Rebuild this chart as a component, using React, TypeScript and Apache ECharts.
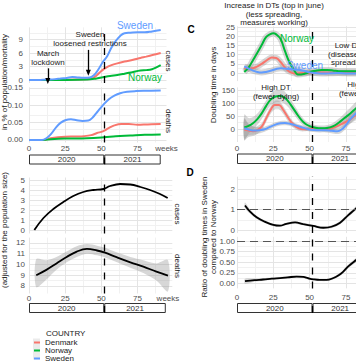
import React, { useEffect, useRef } from 'react';
import * as echarts from 'echarts';

const FONT = "'Liberation Sans', Arial, Helvetica, sans-serif";
const C_DK = '#F8766D';
const C_NO = '#00BA38';
const C_SE = '#619CFF';
const TXT = '#4d4d4d';
const MAJOR = '#e4e4e4';
const MINOR = '#f1f1f1';
const BAND = 'rgba(150,150,150,0.38)';

// ---- ticks / categories
const weekTicks = [0, 25, 50, 75];
const weekMinor = [12.5, 37.5, 62.5, 87.5];
const years = ['2020', '2021'];
const yearSplit = 52;
const countries = ['Denmark', 'Norway', 'Sweden'];

const aCasesTicks = [0, 3, 6, 9];
const aCasesMinor = [1.5, 4.5, 7.5, 10.5];
const aDeathTicks = [0, 0.05, 0.1, 0.15];
const aDeathMinor = [0.025, 0.075, 0.125];
const bCasesTicks = [0, 1, 2, 3, 4, 5];
const bCasesMinor = [0.5, 1.5, 2.5, 3.5, 4.5];
const bDeathTicks = [8, 9, 10, 11, 12];
const bDeathMinor = [8.5, 9.5, 10.5, 11.5];
const cTopTicks = [0, 5, 10, 15, 20, 25];
const cTopMinor = [2.5, 7.5, 12.5, 17.5, 22.5];
const cBotTicks = [0, 50, 100, 150];
const cBotMinor = [-25, 25, 75, 125];
const dTopTicks = [0, 1, 2];
const dTopMinor = [0.5, 1.5, 2.5];
const dBotTicks = [0, 0.25, 0.5, 0.75, 1];
const dBotMinor = [0.125, 0.375, 0.625, 0.875];

// ---- A: cumulative cases (% of population), [week, value]
const aCasesSweden = [[0, 0], [6, 0], [12, 0.1], [18, 0.2], [22, 0.35], [26, 0.45], [30, 0.65], [34, 0.55], [38, 0.5], [42, 0.55], [45, 1.1], [48, 2.4], [51, 4.0], [54, 5.3], [57, 7.2], [60, 8.7], [63, 9.8], [66, 10.4], [70, 10.5], [75, 10.6], [80, 10.6], [85, 10.8], [91, 11.1]];
const aCasesDenmark = [[0, 0], [20, 0.05], [40, 0.15], [44, 0.4], [47, 1.1], [50, 2.0], [53, 2.7], [57, 3.3], [61, 3.7], [66, 4.1], [72, 4.5], [77, 4.9], [81, 5.2], [86, 5.6], [91, 6.0]];
const aCasesNorway = [[0, 0], [20, 0.02], [40, 0.1], [46, 0.3], [51, 0.6], [56, 0.9], [61, 1.1], [66, 1.4], [72, 1.8], [77, 2.1], [81, 2.2], [85, 2.4], [88, 2.8], [91, 3.3]];
// ---- A: cumulative deaths
const aDeathsSweden = [[0, 0], [9, 0], [12, 0.005], [15, 0.016], [19, 0.038], [22, 0.05], [25, 0.057], [29, 0.06], [33, 0.057], [37, 0.055], [41, 0.056], [44, 0.065], [47, 0.08], [51, 0.1], [55, 0.117], [59, 0.128], [63, 0.135], [68, 0.139], [74, 0.141], [81, 0.142], [91, 0.143]];
const aDeathsDenmark = [[0, 0], [10, 0], [15, 0.005], [20, 0.008], [25, 0.0095], [32, 0.01], [38, 0.011], [43, 0.014], [47, 0.02], [51, 0.025], [55, 0.034], [59, 0.042], [64, 0.046], [69, 0.046], [75, 0.044], [82, 0.045], [91, 0.046]];
const aDeathsNorway = [[0, 0], [10, 0], [15, 0.002], [25, 0.004], [40, 0.005], [52, 0.008], [60, 0.011], [70, 0.013], [80, 0.015], [91, 0.016]];

// ---- B: ratio Sweden, cases [week, value]; deaths [week, mid, lo, hi]
const bCases = [[3.7, 0], [10, 1.2], [16.8, 2.1], [23.7, 2.8], [30.6, 3.4], [37.5, 3.8], [44.4, 4.0], [51.4, 4.1], [56, 4.4], [63, 4.6], [70, 4.55], [77, 4.3], [83.6, 4.0], [90.5, 3.6], [95.8, 3.2]];
const bDeaths = [[5, 9.0, 7.9, 10.5], [12, 9.5, 8.6, 10.4], [19, 10.1, 9.5, 10.7], [26, 10.7, 10.2, 11.2], [33, 11.2, 10.7, 11.7], [40, 11.45, 11.0, 11.9], [47, 11.3, 10.85, 11.75], [52.5, 11.1, 10.65, 11.55], [60, 10.7, 10.25, 11.15], [70, 10.2, 9.7, 10.7], [79, 9.8, 9.2, 10.4], [88, 9.33, 8.5, 10.1], [96, 8.96, 7.5, 10.4]];

// ---- C: doubling times [week, value]
const cTopNorway = [[5, 0.5], [8, 3], [11, 7], [14, 11], [17, 15.2], [20, 19.5], [23, 21.2], [25, 21.6], [27, 21], [30, 18.5], [33, 12], [36, 6], [39, 2], [42, -0.8], [46, -0.5], [50, 0.5], [54, 1.2], [58, 1.6], [62, 1.6], [66, 1.4], [70, 1.0], [74, 0.9], [78, 1.0], [84, 0.9]];
const cTopDenmark = [[5, 2.5], [9, 2.4], [13, 3.2], [17, 5], [21, 7.2], [24, 8.4], [27, 8.2], [30, 6], [33, 3], [36, 0.8], [40, -0.3], [45, 0], [50, 0.2], [56, 0.3], [62, 0.2], [70, 0.1], [78, 0.1], [84, 0.1]];
const cTopSweden = [[5, 3.6], [8, 2.4], [11, 1.3], [14, 0.6], [17, 0.3], [20, 0.6], [23, 1.2], [27, 2.2], [30, 2.6], [33, 2.4], [37, 2.0], [41, 1.8], [45, 1.4], [49, 0.6], [52, 0.1], [56, -0.2], [60, -0.3], [65, -0.1], [70, 0], [75, -0.2], [80, -0.3], [84, -0.3]];
// [week, value, CI half width]
const cBotNorway = [[5, 6, 50], [8, 12, 30], [11, 22, 24], [14, 38, 22], [17, 60, 22], [20, 88, 22], [23, 112, 22], [26, 124, 23], [29, 127, 24], [32, 124, 24], [35, 108, 22], [38, 85, 20], [41, 60, 18], [44, 37, 15], [47, 20, 13], [50, 11, 11], [54, 5, 10], [58, 3, 10], [62, 4, 11], [66, 10, 13], [70, 24, 15], [74, 42, 18], [78, 60, 22], [82, 80, 25], [86, 98, 28]];
const cBotDenmark = [[5, -2, 40], [8, -6, 25], [11, -9, 18], [14, -4, 15], [17, 9, 14], [20, 40, 14], [23, 72, 15], [26, 92, 16], [29, 92, 16], [32, 72, 15], [35, 45, 14], [38, 22, 12], [41, 7, 10], [44, 0, 9], [47, -1, 8], [50, 1, 8], [53, 3, 8], [57, 1, 8], [61, -1, 9], [65, 3, 10], [69, 11, 12], [73, 22, 14], [77, 33, 16], [81, 50, 19], [85, 65, 22]];
const cBotSweden = [[5, 3, 40], [8, -2, 22], [12, -6, 15], [16, -4, 12], [19, -1, 10], [22, 6, 9], [26, 16, 9], [30, 22, 9], [33, 23, 9], [37, 19, 8], [41, 13, 8], [45, 6, 8], [49, -1, 8], [53, -4, 8], [57, -5, 8], [61, -5, 8], [65, -7, 9], [69, -9, 10], [72, -2, 12], [75, 15, 14], [78, 38, 16], [81, 55, 18], [84, 70, 20]];

// ---- D: ratio Sweden / Norway [week, value, CI half width]
const dTop = [[5.5, 1.2, 0.14], [9, 0.9, 0.1], [13.5, 0.62, 0.08], [19, 0.41, 0.07], [25, 0.25, 0.06], [29.6, 0.21, 0.06], [34, 0.3, 0.06], [40, 0.37, 0.06], [45.6, 0.29, 0.06], [52.5, 0.2, 0.06], [59.4, 0.11, 0.06], [65, 0.16, 0.07], [71, 0.36, 0.08], [76.6, 0.73, 0.09], [82, 1.06, 0.1], [86, 1.35, 0.12]];
const dBot = [[5.5, 0.05, 0.06], [12, 0.075, 0.04], [18, 0.09, 0.03], [24, 0.11, 0.025], [29.6, 0.125, 0.025], [35, 0.14, 0.025], [41, 0.16, 0.025], [45.6, 0.15, 0.025], [49, 0.12, 0.025], [52.5, 0.095, 0.025], [57, 0.08, 0.025], [61.7, 0.08, 0.025], [66, 0.12, 0.03], [70, 0.19, 0.035], [73, 0.27, 0.04], [76.6, 0.4, 0.045], [82, 0.55, 0.05], [86, 0.65, 0.06]];

// year bar extents (end week per panel)
const yearEndA = 91;
const yearEndB = 94.5;
const yearEndCD = 90;

const fmt2 = (v: number) => v.toFixed(2);
const fmtInt = (v: number) => String(v);

function buildOption() {
  const grids = [
    { left: 29, top: 27.35, width: 137.5, height: 55.6 }, // 0 A cases
    { left: 29, top: 87.3, width: 137.5, height: 55.2 }, // 1 A deaths
    { left: 29, top: 154.5, width: 137.5, height: 10 }, // 2 A years
    { left: 29, top: 177.5, width: 143.3, height: 56 }, // 3 B cases
    { left: 29, top: 237.6, width: 143.3, height: 55.9 }, // 4 B deaths
    { left: 29, top: 303, width: 143.3, height: 10 }, // 5 B years
    { left: 237, top: 26.3, width: 143.8, height: 54.8 }, // 6 C top
    { left: 237, top: 87.4, width: 143.8, height: 54.6 }, // 7 C bottom
    { left: 237, top: 153.5, width: 143.8, height: 10.5 }, // 8 C years
    { left: 237, top: 176.7, width: 143.8, height: 56.4 }, // 9 D top
    { left: 237, top: 236.8, width: 143.8, height: 51.6 }, // 10 D bottom
    { left: 237, top: 303, width: 143.8, height: 10 }, // 11 D years
  ].map((g) => ({ ...g, show: false, containLabel: false, outerBoundsMode: 'none' }));

  const xMax = [95, 95, 95, 99, 99, 99, 99, 99, 99, 99, 99, 99];
  const xLabel: Record<number, { margin: number; weeksAt: number | null }> = {
    1: { margin: 2, weeksAt: 95 },
    4: { margin: 1, weeksAt: 96 },
    7: { margin: 2, weeksAt: null },
    10: { margin: 5.5, weeksAt: null },
  };
  const xAxis = grids.map((_, i) => {
    const lab = xLabel[i];
    return {
      type: 'value',
      gridIndex: i,
      min: 0,
      max: xMax[i],
      axisLine: { show: false },
      axisTick: { show: false },
      splitLine: { show: false },
      axisLabel: lab
        ? {
            show: true,
            customValues: lab.weeksAt === null ? weekTicks : [...weekTicks, lab.weeksAt],
            formatter: (v: number) => (v === lab.weeksAt ? 'weeks' : String(v)),
            fontSize: 8,
            color: TXT,
            margin: lab.margin,
            fontFamily: FONT,
            hideOverlap: false,
          }
        : { show: false },
    };
  });

  const yDef: Record<number, any> = {
    0: { min: -0.65, max: 11.7, ticks: aCasesTicks, f: fmtInt, margin: 6 },
    1: { min: -0.0073, max: 0.152, ticks: aDeathTicks, f: fmt2, margin: 6 },
    3: { min: -0.35, max: 5.25, ticks: bCasesTicks, f: fmtInt, margin: 4 },
    4: { min: 7.3, max: 12.5, ticks: bDeathTicks, f: fmtInt, margin: 4 },
    6: { min: -4.4, max: 25.4, ticks: cTopTicks, f: fmtInt, margin: 2 },
    7: { min: -50, max: 160, ticks: cBotTicks, f: fmtInt, margin: 2 },
    9: { min: -0.15, max: 2.6, ticks: dTopTicks, f: fmtInt, margin: 2 },
    10: { min: -0.12, max: 1.1, ticks: dBotTicks, f: fmt2, margin: 2 },
  };
  const yAxis = grids.map((_, i) => {
    const d = yDef[i];
    if (!d) {
      return { type: 'category', gridIndex: i, data: ['year'], show: false };
    }
    return {
      type: 'value',
      gridIndex: i,
      min: d.min,
      max: d.max,
      axisLine: { show: false },
      axisTick: { show: false },
      splitLine: { show: false },
      axisLabel: {
        customValues: d.ticks,
        formatter: d.f,
        fontSize: 8,
        color: TXT,
        margin: d.margin,
        fontFamily: FONT,
        hideOverlap: false,
      },
    };
  });

  const series: any[] = [];

  // background grid lines (drawn beneath everything)
  const gridLines = (i: number, yMaj: number[], yMin: number[]) => {
    const xMin = weekMinor.filter((v) => v <= xMax[i]);
    series.push({
      type: 'line',
      name: 'grid' + i,
      xAxisIndex: i,
      yAxisIndex: i,
      data: [[0, yDef[i].min]],
      symbol: 'none',
      lineStyle: { opacity: 0 },
      silent: true,
      z: 0,
      markLine: {
        z: 0,
        silent: true,
        animation: false,
        symbol: ['none', 'none'],
        label: { show: false },
        emphasis: { disabled: true },
        data: [
          ...yMin.map((v) => ({ yAxis: v, lineStyle: { color: MINOR, width: 1, type: 'solid' } })),
          ...xMin.map((v) => ({ xAxis: v, lineStyle: { color: MINOR, width: 1, type: 'solid' } })),
          ...yMaj.map((v) => ({ yAxis: v, lineStyle: { color: MAJOR, width: 1, type: 'solid' } })),
          ...weekTicks.map((v) => ({ xAxis: v, lineStyle: { color: MAJOR, width: 1, type: 'solid' } })),
        ],
      },
    });
  };
  gridLines(0, aCasesTicks, aCasesMinor);
  gridLines(1, aDeathTicks, aDeathMinor);
  gridLines(3, bCasesTicks, bCasesMinor);
  gridLines(4, bDeathTicks, bDeathMinor);
  gridLines(6, cTopTicks, cTopMinor);
  gridLines(7, cBotTicks, cBotMinor);
  gridLines(9, dTopTicks, dTopMinor);
  gridLines(10, dBotTicks, dBotMinor);

  // confidence band: custom series, one polygon through all [week, lo, hi] rows
  let bandCount = 0;
  const band = (i: number, rows: number[][]) => {
    bandCount += 1;
    series.push({
      type: 'custom',
      name: 'band' + bandCount,
      xAxisIndex: i,
      yAxisIndex: i,
      data: rows,
      encode: { x: 0, y: [1, 2] },
      clip: true,
      silent: true,
      z: 1,
      renderItem: (params: any, api: any) => {
        if (params.dataIndex !== 0) return null;
        const top = rows.map((r) => api.coord([r[0], r[2]]));
        const bot = rows.map((r) => api.coord([r[0], r[1]])).reverse();
        return {
          type: 'polygon',
          shape: { points: [...top, ...bot], smooth: 0.3 },
          style: { fill: BAND },
        };
      },
    });
  };

  const used: Record<string, boolean> = {};
  const line = (i: number, name: string, color: string, data: number[][], width = 2, halo = false) => {
    if (halo) {
      series.push({
        type: 'line',
        name: name + '-halo' + i,
        xAxisIndex: i,
        yAxisIndex: i,
        data,
        smooth: 0.4,
        symbol: 'none',
        lineStyle: { color: 'rgba(140,140,140,0.35)', width: 6, type: 'solid' },
        silent: true,
        z: 2,
      });
    }
    const sName = used[name] ? name + '-' + i : name;
    used[name] = true;
    series.push({
      type: 'line',
      name: sName,
      xAxisIndex: i,
      yAxisIndex: i,
      data,
      smooth: 0.4,
      symbol: 'none',
      showSymbol: false,
      lineStyle: { color, width, type: 'solid', opacity: 1 },
      itemStyle: { color },
      silent: true,
      z: 3,
    });
  };
  const rowsCI = (arr: number[][]) => arr.map((p) => [p[0], p[1] - p[2], p[1] + p[2]]);
  const mid = (arr: number[][]) => arr.map((p) => [p[0], p[1]]);

  // A
  line(0, 'Denmark', C_DK, aCasesDenmark);
  line(0, 'Norway', C_NO, aCasesNorway);
  line(0, 'Sweden', C_SE, aCasesSweden);
  line(1, 'Denmark', C_DK, aDeathsDenmark);
  line(1, 'Norway', C_NO, aDeathsNorway);
  line(1, 'Sweden', C_SE, aDeathsSweden);
  // B
  line(3, 'ratioCases', '#000', bCases, 1.8);
  band(4, bDeaths.map((p) => [p[0], p[2], p[3]]));
  line(4, 'ratioDeaths', '#000', mid(bDeaths), 1.8);
  // C
  line(6, 'Denmark', C_DK, cTopDenmark, 2, true);
  line(6, 'Norway', C_NO, cTopNorway, 2, true);
  line(6, 'Sweden', C_SE, cTopSweden, 2, true);
  band(7, rowsCI(cBotNorway));
  band(7, rowsCI(cBotDenmark));
  band(7, rowsCI(cBotSweden));
  line(7, 'Denmark', C_DK, mid(cBotDenmark));
  line(7, 'Norway', C_NO, mid(cBotNorway));
  line(7, 'Sweden', C_SE, mid(cBotSweden));
  // D
  band(9, rowsCI(dTop));
  line(9, 'ratioTop', '#000', mid(dTop), 1.8);
  band(10, rowsCI(dBot));
  line(10, 'ratioBot', '#000', mid(dBot), 1.8);

  // year bars
  const yearBar = (i: number, end: number) => {
    const lens = [yearSplit, end - yearSplit];
    years.forEach((y, k) => {
      series.push({
        type: 'bar',
        name: y + '-' + i,
        xAxisIndex: i,
        yAxisIndex: i,
        stack: 'yr' + i,
        data: [lens[k]],
        barWidth: '100%',
        silent: true,
        itemStyle: { color: '#ffffff', borderColor: '#333', borderWidth: 1 },
        label: { show: true, position: 'inside', formatter: y, fontSize: 8, color: '#333', fontFamily: FONT },
        z: 2,
      });
    });
  };
  yearBar(2, yearEndA);
  yearBar(5, yearEndB);
  yearBar(8, yearEndCD);
  yearBar(11, yearEndCD);

  // dashed reference lines
  const refLines = (i: number, horiz: number | null) => {
    const data: any[] = [
      { xAxis: yearSplit, lineStyle: { color: '#000', width: 1.3, type: [7, 7] } },
    ];
    if (horiz !== null) data.push({ yAxis: horiz, lineStyle: { color: '#555', width: 1.2, type: [8, 5] } });
    series.push({
      type: 'line',
      name: 'ref' + i,
      xAxisIndex: i,
      yAxisIndex: i,
      data: [],
      symbol: 'none',
      silent: true,
      z: 8,
      markLine: {
        z: 8,
        silent: true,
        animation: false,
        symbol: ['none', 'none'],
        label: { show: false },
        emphasis: { disabled: true },
        data,
      },
    });
  };
  [0, 1, 2, 3, 4, 5, 6, 7, 8, 11].forEach((i) => refLines(i, null));
  refLines(9, 1);
  refLines(10, 1);

  // arrows in A
  series.push({
    type: 'line',
    name: 'arrows',
    xAxisIndex: 0,
    yAxisIndex: 0,
    data: [],
    symbol: 'none',
    silent: true,
    z: 9,
    markLine: {
      z: 9,
      silent: true,
      animation: false,
      symbol: ['none', 'triangle'],
      symbolSize: [5, 6],
      label: { show: false },
      emphasis: { disabled: true },
      lineStyle: { color: '#000', width: 1.3, type: 'solid' },
      data: [
        [{ coord: [13, 2.6] }, { coord: [13, -0.2] }],
        [{ coord: [41, 6.7] }, { coord: [41, 1.6] }],
      ],
    },
  });

  const txt = (text: string, x: number, y: number, o: any = {}) => ({
    type: 'text',
    x,
    y,
    rotation: o.rotation || 0,
    z: 100,
    silent: true,
    style: {
      text,
      fill: o.fill || '#1a1a1a',
      fontSize: o.fontSize || 8,
      fontWeight: o.fontWeight || 'normal',
      fontFamily: FONT,
      lineHeight: o.lineHeight || 9,
      textAlign: o.align || 'center',
      align: o.align || 'center',
      textVerticalAlign: 'middle',
      verticalAlign: 'middle',
    },
  });
  const UP = Math.PI / 2;
  const DOWN = -Math.PI / 2;

  const graphic = [
    // legend key background
    { type: 'rect', shape: { x: 33, y: 338.5, width: 7, height: 21 }, style: { fill: '#ebebeb' }, z: 1, silent: true },
    txt('COUNTRY', 46, 333, { align: 'left' }),
    // A annotations
    txt('March\nlockdown', 48, 58, { lineHeight: 8.5 }),
    txt('Sweden\nloosened restrictions', 90, 39, { lineHeight: 8.5 }),
    txt('Sweden', 135, 25, { fill: C_SE, fontSize: 10 }),
    txt('Norway', 145, 77, { fill: C_NO, fontSize: 10 }),
    txt('cases', 168, 61, { rotation: DOWN }),
    txt('deaths', 168, 121, { rotation: DOWN }),
    txt('cases', 177, 214, { rotation: DOWN }),
    txt('deaths', 177, 266, { rotation: DOWN }),
    txt('in % of population/mortality', 4.5, 82, { rotation: UP }),
    txt('(adjusted for the population size)', 4.5, 230, { rotation: UP }),
    // C / D
    txt('C', 191, 29, { fontSize: 10, fontWeight: 'bold', fill: '#000' }),
    txt('D', 190, 172, { fontSize: 10, fontWeight: 'bold', fill: '#000' }),
    txt('Increase in DTs (top in june)\n(less spreading,\nmeasures working)', 274, 14, { lineHeight: 8.3 }),
    txt('Norway', 297, 38, { fill: C_NO, fontSize: 10 }),
    txt('Sweden', 305, 65, { fill: C_SE, fontSize: 10 }),
    txt('Low DTs\n(disease still\nspreading)', 350, 54, { lineHeight: 8.3 }),
    txt('High DT\n(fewer dying)', 276, 92, { lineHeight: 8.3 }),
    txt('High DT\n(fewer dying)', 362, 89, { lineHeight: 8.3 }),
    txt('Doubling time in days', 213, 85, { rotation: UP }),
    txt('Ratio of doubling times in Sweden\ncompared to Norway', 209, 237, { rotation: UP, lineHeight: 9 }),
  ];

  return {
    animation: false,
    backgroundColor: '#ffffff',
    textStyle: { fontFamily: FONT },
    grid: grids,
    xAxis,
    yAxis,
    series,
    graphic,
    legend: {
      data: countries,
      orient: 'vertical',
      left: 34,
      top: 338.5,
      padding: 0,
      itemWidth: 6,
      itemHeight: 2,
      itemGap: 0,
      icon: 'rect',
      selectedMode: false,
      textStyle: { fontSize: 8, lineHeight: 7, color: '#1a1a1a', fontFamily: FONT },
    },
  };
}

export default function App() {
  const ref = useRef<HTMLDivElement>(null);
  useEffect(() => {
    if (!ref.current) return;
    const chart = echarts.init(ref.current, null, { renderer: 'svg' });
    chart.setOption(buildOption() as any);
    return () => chart.dispose();
  }, []);
  return (
    <div
      ref={ref}
      style={{ position: 'fixed', left: 0, top: 0, width: 356, height: 364, background: '#fff' }}
    />
  );
}
